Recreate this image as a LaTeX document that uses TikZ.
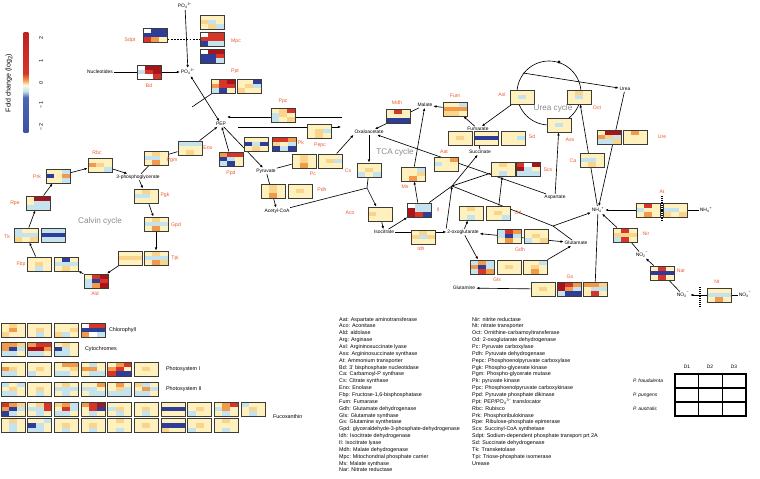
\documentclass[tikz,border=0pt]{standalone}
\usepackage{fontspec}
\setmainfont{Liberation Sans}
\usetikzlibrary{arrows.meta, backgrounds}

% heat map colours
\definecolor{yy}{HTML}{FFF1BE}
\definecolor{pp}{HTML}{FBD48C}
\definecolor{oo}{HTML}{F39A4A}
\definecolor{rr}{HTML}{D7352A}
\definecolor{dd}{HTML}{A8141C}
\definecolor{bb}{HTML}{2E3D98}
\definecolor{cbm}{HTML}{4A67B0}
\definecolor{ll}{HTML}{C4E3EF}
\definecolor{ww}{HTML}{FFFFFF}
\definecolor{enz}{HTML}{EE5A2A}
\definecolor{boxline}{HTML}{3C3C34}

% colour bar
\pgfdeclareverticalshading{fcbar}{1cm}{color(0cm)=(bb); color(1.22cm)=(cbm); color(1.33cm)=(ll); color(1.44cm)=(ww!50!yy); color(1.53cm)=(oo); color(1.65cm)=(rr); color(2.97cm)=(dd)}

% index and charge of an ion
\newcommand{\ionix}[2]{\textsubscript{#1}\textsuperscript{#2}}

% one heat map: name, x, y (top left), nine cell colours
\newcommand{\hmap}[4]{%
  \edef\hmcols{#4}%
  \foreach \hmk [count=\hmi from 0] in \hmcols {%
    \pgfmathtruncatemacro{\hmr}{\hmi/3}%
    \pgfmathtruncatemacro{\hmc}{mod(\hmi,3)}%
    \fill[\hmk] ({#2+\hmc*8},{#3+\hmr*14/3}) rectangle ++(8,14/3);
  }%
  \node[hmbox] (#1) at ({#2+12},{#3+7}) {};
}

\begin{document}
\begin{tikzpicture}[x=0.03cm, y=-0.03cm,
    hmbox/.style={draw=boxline, line width=0.8pt, minimum width=0.72cm, minimum height=0.42cm, inner sep=0pt}, % frame of a heat map
    met/.style={font=\fontsize{4.2}{5}\selectfont, inner sep=0.7pt}, % metabolites
    enzlab/.style={text=enz, font=\fontsize{4.4}{5}\selectfont, inner sep=0.5pt}, % enzyme names
    cyc/.style={text=black!45, font=\fontsize{7}{8}\selectfont}, % cycle names
    arr/.style={-{Latex[length=2.6pt,width=2.2pt]}, line width=0.55pt},
    arr2/.style={{Latex[length=2.6pt,width=2.2pt]}-{Latex[length=2.6pt,width=2.2pt]}, line width=0.55pt},
    link/.style={line width=0.55pt},
    memb/.style={line width=1pt, dash pattern=on 0.8pt off 0.8pt}, % membrane
    legtxt/.style={font=\fontsize{4.6}{5.85}\selectfont, align=left, inner sep=0pt}
]
\useasboundingbox (0,0) rectangle (760,478);

% Colour bar
\shade[shading=fcbar] (22,33) rectangle (30,132);
\node[met, rotate=90, font=\fontsize{6}{7}\selectfont] (fctitle) at (9,83) {Fold change (log\textsubscript{2})};
\foreach \v/\ty in {2/38,1/61,0/83,−1/105,−2/127}
    \node[met, rotate=90, font=\fontsize{4.6}{5}\selectfont] (tick\ty) at (41,\ty) {\v};

% Phosphate
\hmap{sdpt}{143}{28}{ww,bb,bb,bb,bb,bb,rr,oo,yy}
\hmap{mpc1}{200}{15}{yy,yy,yy,pp,ll,yy,yy,pp,ll}
\hmap{mpc2}{200}{32}{ww,rr,rr,rr,rr,rr,bb,ll,ll}
\hmap{mpc3}{200}{49}{ww,dd,dd,bb,bb,rr,bb,bb,ll}
\hmap{bd}{137}{65}{ww,dd,dd,ll,rr,dd,ww,ww,rr}
\hmap{ppt1}{211}{79}{yy,rr,dd,oo,rr,rr,ll,bb,yy}
\hmap{ppt2}{237}{79}{yy,yy,bb,yy,pp,ll,pp,yy,yy}

% PEP and pyruvate
\hmap{ppc}{271}{108}{yy,pp,rr,ll,pp,yy,ll,yy,pp}
\hmap{pepc}{307}{124}{yy,yy,yy,yy,pp,ll,yy,pp,yy}
\hmap{pk1}{244}{137}{yy,yy,yy,bb,ll,bb,yy,pp,yy}
\hmap{pk2}{272}{137}{rr,rr,oo,pp,yy,ll,bb,ll,bb}
\hmap{ppd}{219}{152}{oo,rr,rr,bb,ll,yy,ll,bb,yy}
\hmap{pc1}{292}{154}{yy,pp,yy,yy,pp,yy,yy,oo,yy}
\hmap{pc2}{318}{154}{yy,yy,yy,yy,pp,ll,yy,yy,yy}
\hmap{pdh1}{261}{184}{yy,pp,yy,yy,pp,yy,yy,oo,yy}
\hmap{pdh2}{288}{184}{yy,yy,yy,yy,pp,yy,yy,yy,yy}

% Calvin cycle
\hmap{eno}{178}{141}{ll,ll,ll,yy,yy,yy,yy,pp,yy}
\hmap{pgm}{144}{151}{yy,pp,yy,ll,ll,yy,yy,oo,yy}
\hmap{rbc}{88}{158}{yy,yy,yy,oo,pp,yy,yy,yy,ll}
\hmap{prk}{46}{169}{yy,yy,ll,bb,yy,oo,yy,yy,ll}
\hmap{rpe}{26}{196}{yy,dd,dd,yy,ll,ll,ll,ll,ll}
\hmap{tk1}{14}{228}{ll,yy,yy,ll,ll,ll,pp,yy,pp}
\hmap{tk2}{41}{228}{ll,ll,ll,bb,bb,bb,ll,ll,ll}
\hmap{fbp1}{27}{257}{yy,yy,yy,yy,pp,yy,yy,ll,yy}
\hmap{fbp2}{54}{257}{yy,bb,yy,ll,ll,ll,yy,pp,yy}
\hmap{ald}{84}{274}{yy,rr,dd,ll,bb,rr,ll,oo,dd}
\hmap{tpi1}{118}{251}{yy,yy,yy,pp,pp,pp,yy,yy,yy}
\hmap{tpi2}{144}{251}{yy,pp,yy,ll,ll,ll,yy,oo,pp}
\hmap{gpd}{144}{217}{yy,pp,yy,ll,ll,ll,yy,oo,yy}
\hmap{pgk}{134}{189}{yy,pp,yy,ll,ll,yy,yy,yy,yy}

% TCA cycle
\hmap{mdh}{386}{109}{yy,rr,yy,yy,yy,yy,bb,bb,bb}
\hmap{fumb}{443}{102}{yy,yy,ll,oo,oo,oo,pp,pp,yy}
\hmap{sd1}{448}{131}{yy,yy,yy,yy,pp,yy,yy,yy,yy}
\hmap{sd2}{474}{131}{yy,yy,yy,bb,bb,bb,yy,yy,yy}
\hmap{sd3}{501}{131}{yy,yy,yy,yy,yy,ll,yy,yy,yy}
\hmap{cs}{357}{163}{yy,yy,yy,yy,pp,yy,ll,yy,ll}
\hmap{ms}{401}{167}{yy,yy,ll,yy,yy,pp,yy,oo,yy}
\hmap{aat}{434}{157}{yy,yy,oo,ll,yy,yy,yy,yy,yy}
\hmap{scs1}{491}{162}{yy,pp,yy,yy,yy,yy,yy,ll,yy}
\hmap{scs2}{516}{162}{rr,ww,dd,dd,ll,yy,ll,ll,ll}
\hmap{aco}{368}{207}{yy,yy,yy,pp,yy,yy,yy,yy,yy}
\hmap{il}{407}{203}{ww,ll,ll,dd,ll,ll,dd,rr,bb}
\hmap{idh}{411}{230}{yy,pp,yy,pp,ll,pp,yy,yy,yy}
\hmap{od1}{459}{206}{yy,pp,yy,yy,yy,yy,yy,ll,yy}
\hmap{od2}{486}{206}{yy,yy,yy,yy,pp,yy,yy,yy,ll}
\hmap{gdh1}{497}{229}{ll,rr,oo,ll,bb,ll,yy,oo,yy}
\hmap{gdh2}{524}{229}{yy,yy,yy,yy,pp,yy,ll,yy,pp}
\hmap{gls1}{470}{260}{ll,oo,ll,oo,bb,ll,ll,rr,oo}
\hmap{gls2}{497}{260}{yy,yy,yy,yy,pp,yy,yy,yy,yy}
\hmap{gls3}{523}{260}{yy,yy,ll,yy,pp,yy,yy,oo,yy}
\hmap{gs1}{531}{282}{yy,yy,yy,yy,pp,yy,yy,yy,yy}
\hmap{gs2}{557}{282}{dd,rr,oo,dd,oo,ll,ll,bb,bb}
\hmap{gs3}{583}{282}{oo,oo,pp,yy,ll,ll,yy,rr,yy}

% Urea cycle
\hmap{asl}{510}{90}{yy,yy,yy,yy,ll,yy,yy,yy,yy}
\hmap{oct}{567}{90}{yy,pp,yy,yy,ll,yy,yy,yy,yy}
\hmap{ass}{547}{118}{yy,yy,yy,yy,ll,yy,yy,yy,yy}
\hmap{ca}{580}{153}{yy,yy,yy,ll,ll,yy,yy,pp,yy}
\hmap{ure1}{597}{130}{yy,dd,dd,oo,pp,ll,ll,ll,pp}
\hmap{ure2}{623}{130}{yy,oo,yy,yy,yy,yy,yy,yy,yy}

% Nitrogen
\hmap{at1}{636}{203}{yy,rr,yy,ll,yy,yy,yy,oo,yy}
\hmap{at2}{663}{203}{yy,yy,yy,ll,ll,yy,pp,yy,pp}
\hmap{nir}{613}{228}{yy,rr,yy,pp,pp,pp,ll,rr,yy}
\hmap{nar}{650}{266}{yy,rr,yy,bb,bb,bb,yy,rr,yy}
\hmap{nt}{707}{288}{yy,yy,yy,ll,ll,ll,yy,oo,yy}

% Photosynthesis rows
\foreach \cl [count=\k from 0] in {{yy,pp,yy,yy,oo,yy,pp,yy,yy},{yy,yy,yy,yy,pp,yy,yy,ll,yy},{yy,yy,yy,yy,yy,pp,pp,ll,yy},{ww,rr,rr,bb,bb,bb,oo,ww,ll}}
    {\hmap{chl\k}{1+\k*26.67}{323}{\cl}}
\foreach \cl [count=\k from 0] in {{oo,oo,pp,oo,bb,ll,ll,ll,yy},{oo,rr,rr,dd,dd,oo,ll,ll,yy},{yy,pp,yy,bb,ll,yy,ll,ll,yy}}
    {\hmap{cyt\k}{1+\k*26.67}{342}{\cl}}
\foreach \cl [count=\k from 0] in {{yy,yy,yy,oo,pp,yy,ll,ll,yy},{yy,yy,yy,yy,pp,yy,ll,yy,yy},{yy,oo,oo,yy,yy,pp,ll,ll,yy},{yy,ll,yy,oo,oo,yy,yy,ll,ll},{yy,oo,rr,oo,rr,yy,rr,bb,bb},{yy,yy,yy,yy,pp,yy,yy,yy,yy}}
    {\hmap{psa\k}{1+\k*26.67}{362}{\cl}}
\foreach \cl [count=\k from 0] in {{ll,yy,ll,yy,pp,yy,ll,ll,yy},{yy,yy,yy,yy,pp,yy,yy,ll,yy},{yy,pp,yy,ll,ll,ll,yy,ll,yy},{yy,yy,oo,ll,ll,yy,yy,ll,ll},{yy,oo,yy,yy,pp,ll,ll,ll,ll},{pp,ll,yy,yy,oo,ll,ll,ll,yy}}
    {\hmap{psb\k}{1+\k*26.67}{382}{\cl}}
\foreach \cl [count=\k from 0] in {{rr,oo,pp,oo,bb,ll,bb,ll,yy},{yy,pp,rr,ll,ll,rr,yy,ll,yy},{pp,oo,ll,yy,rr,ll,ll,ll,yy},{oo,rr,dd,yy,rr,bb,yy,ll,yy},{yy,yy,yy,ll,pp,yy,yy,ll,yy},{yy,yy,yy,yy,pp,yy,yy,ll,yy},{yy,yy,yy,bb,bb,bb,yy,yy,yy},{yy,yy,yy,yy,pp,yy,ll,yy,yy},{yy,oo,rr,ll,oo,yy,yy,ll,yy},{ll,yy,yy,yy,pp,yy,yy,ll,yy}}
    {\hmap{fxa\k}{1+\k*26.67}{402}{\cl}}
\foreach \cl [count=\k from 0] in {{yy,pp,yy,yy,ll,yy,yy,ll,yy},{yy,yy,ll,bb,ll,yy,ll,ll,yy},{yy,yy,yy,yy,pp,yy,yy,ll,yy},{yy,yy,yy,yy,pp,yy,yy,ll,yy},{yy,pp,yy,yy,yy,yy,yy,ll,yy},{yy,yy,yy,yy,pp,yy,yy,yy,yy},{yy,yy,yy,bb,bb,bb,pp,yy,yy},{yy,yy,yy,yy,pp,yy,ll,yy,yy},{yy,pp,yy,yy,yy,yy,yy,ll,yy}}
    {\hmap{fxb\k}{1+\k*26.67}{418.5}{\cl}}
\node[met, anchor=west, font=\fontsize{4.6}{5}\selectfont] (chllab) at (108,330) {Chlorophyll};
\node[met, anchor=west, font=\fontsize{4.6}{5}\selectfont] (cytlab) at (84,349) {Cytochromes};
\node[met, anchor=west, font=\fontsize{4.6}{5}\selectfont] (psalab) at (165,369) {Photosystem I};
\node[met, anchor=west, font=\fontsize{4.6}{5}\selectfont] (psblab) at (165,389) {Photosystem II};
\node[met, anchor=west, font=\fontsize{4.6}{5}\selectfont] (fxlab) at (272,417) {Fucoxanthin};

% Metabolites
\node[met] (po4a) at (185,6) {PO\ionix{4}{3−}};
\node[met] (po4b) at (188,72) {PO\ionix{4}{3−}};
\node[met] (nuc) at (100,72) {Nucleotides};
\node[met] (pep) at (221,124) {PEP};
\node[met] (pyr) at (266,171) {Pyruvate};
\node[met] (acoa) at (277,211) {Acetyl-CoA};
\node[met] (pga) at (138,177) {3-phosphoglycerate};
\node[met] (oaa) at (369,132) {Oxaloacetate};
\node[met] (mal) at (425,105) {Malate};
\node[met] (fum) at (478,129) {Fumarate};
\node[met] (suc) at (480,152) {Succinate};
\node[met] (asp) at (555,197) {Aspartate};
\node[met] (iso) at (384,232) {Isocitrate};
\node[met] (og) at (463,232) {2-oxoglutarate};
\node[met] (glu) at (576,243) {Glutamate};
\node[met] (gln) at (464,288) {Glutamine};
\node[met] (urea) at (625,89) {Urea};
\node[met] (nh4) at (598,210) {NH\ionix{4}{+}};
\node[met] (nh4o) at (706,210) {NH\ionix{4}{+}};
\node[met] (no2) at (642,255) {NO\ionix{2}{−}};
\node[met] (no3) at (683,295) {NO\ionix{3}{−}};
\node[met] (no3o) at (745,295) {NO\ionix{3}{−}};

% Cycle names
\node[cyc] (calvin) at (100,221) {Calvin cycle};
\node[cyc] (tca) at (395,152) {TCA cycle};
\node[cyc] (ureacyc) at (553,108) {Urea cycle};

% Enzyme names
\node[enzlab] (sdptl) at (130,40) {Sdpt};
\node[enzlab] (mpcl) at (236,41) {Mpc};
\node[enzlab] (bdl) at (149,86) {Bd};
\node[enzlab] (pptl) at (235,71) {Ppt};
\node[enzlab] (ppcl) at (283,101) {Ppc};
\node[enzlab] (pepcl) at (320,145) {Pepc};
\node[enzlab] (pkl) at (301,143) {Pk};
\node[enzlab] (ppdl) at (231,173) {Ppd};
\node[enzlab] (pcl) at (313,174) {Pc};
\node[enzlab] (pdhl) at (322,190) {Pdh};
\node[enzlab] (enol) at (208,148) {Eno};
\node[enzlab] (pgml) at (172,160) {Pgm};
\node[enzlab] (rbcl) at (97,153) {Rbc};
\node[enzlab] (prkl) at (37,177) {Prk};
\node[enzlab] (rpel) at (15,203) {Rpe};
\node[enzlab] (tkl) at (7,237) {Tk};
\node[enzlab] (fbpl) at (21,264) {Fbp};
\node[enzlab] (aldl) at (95,294) {Ald};
\node[enzlab] (tpil) at (175,258) {Tpi};
\node[enzlab] (gpdl) at (176,225) {Gpd};
\node[enzlab] (pgkl) at (165,195) {Pgk};
\node[enzlab] (mdhl) at (397,103) {Mdh};
\node[enzlab] (fuml) at (455,96) {Fum};
\node[enzlab] (sdl) at (532,137) {Sd};
\node[enzlab] (csl) at (348,171) {Cs};
\node[enzlab] (msl) at (405,187) {Ms};
\node[enzlab] (aatl) at (444,152) {Aat};
\node[enzlab] (scsl) at (548,170) {Scs};
\node[enzlab] (acol) at (350,213) {Aco};
\node[enzlab] (ill) at (438,210) {Il};
\node[enzlab] (idhl) at (421,249) {Idh};
\node[enzlab] (odl) at (518,213) {Od};
\node[enzlab] (gdhl) at (520,250) {Gdh};
\node[enzlab] (glsl) at (497,280) {Gls};
\node[enzlab] (gsl) at (570,277) {Gs};
\node[enzlab] (asll) at (502,95) {Asl};
\node[enzlab] (octl) at (597,108) {Oct};
\node[enzlab] (assl) at (570,140) {Ass};
\node[enzlab] (cal) at (573,161) {Ca};
\node[enzlab] (urel) at (662,137) {Ure};
\node[enzlab] (atl) at (662,192) {At};
\node[enzlab] (nirl) at (646,234) {Nir};
\node[enzlab] (narl) at (681,271) {Nar};
\node[enzlab] (ntl) at (717,282) {Nt};

% Free ends and branch points
\coordinate (pptx) at (192,107);
\coordinate (ppcR) at (342,117);
\coordinate (pepcL) at (238,127);
\coordinate (pepcR) at (341,127);
\coordinate (jcs) at (367,188);
\coordinate (jx) at (452,186);
\coordinate (jglu) at (553,226);
\coordinate (args) at (523,73);

\begin{pgfonlayer}{background}
    % phosphate
    \draw[arr] (po4a) -- (po4b);
    \draw[line width=0.8pt, dash pattern=on 1.6pt off 1.1pt] (sdpt.east |- mpc2.west) -- (mpc2.west);
    \draw[arr] (nuc) -- (po4b);
    \draw[arr2] (po4b) -- (pep);
    \draw[link] (pptx) -- (ppt1);
    % PEP / pyruvate
    \draw[arr] (ppcR) -- (ppcR -| pep.east);
    \draw[arr] (pepcL) -- (pepcR);
    \draw[arr] (pep) -- (pyr);
    \draw[arr] (ppd) -- (pep);
    \draw[arr] (eno) -- (pep);
    \draw[link] (pga) -- (pgm);
    \draw[link] (pgm) -- (eno);
    \draw[arr] (pyr) -- (acoa);
    \draw[link] (pyr) -- (pc1);
    \draw[arr] (pc2) -- (oaa.south west);
    % Calvin cycle
    \draw[arr] (pga) -- (pgk);
    \draw[arr] (pgk) -- (gpd);
    \draw[arr] (gpd) -- (tpi2);
    \draw[arr] (tpi1) -- (ald);
    \draw[arr] (ald) -- (fbp2);
    \draw[arr] (fbp1) -- (tk1);
    \draw[arr] (tk1) -- (rpe);
    \draw[arr] (rpe) -- (prk);
    \draw[arr] (prk) -- (rbc);
    \draw[arr] (rbc) -- (pga);
    % TCA cycle
    \draw[link] (acoa) -- (jcs);
    \draw[arr] (oaa) -- (cs);
    \draw[arr] (cs) -- (jcs) -- (aco);
    \draw[arr] (aco) -- (iso);
    \draw[arr] (iso) -- (og);
    \draw[arr] (iso) -- (il);
    \draw[arr] (il) -- (ms);
    \draw[arr] (ms) -- (mal);
    \draw[arr] (mal) -- (oaa);
    \draw[arr] (fum) -- (fumb);
    \draw[arr] (fumb) -- (mal);
    \draw[arr] (suc) -- (fum);
    \draw[link] (il) -- (jx);
    \draw[arr] (jx) -- (suc);
    \draw[link] (scs1) -- (jx);
    \draw[arr] (og) -- (od1);
    \draw[arr] (od2) -- (scs1);
    \draw[arr] (og.north west) -- (jx);
    \draw[arr] (asp) -- (oaa);
    \draw[link] (jx) -- (jglu);
    % glutamate / glutamine
    \draw[arr2] (glu) -- (og);
    \draw[arr] (og) -- (gls1);
    \draw[arr] (gls3) -- (glu);
    \draw[arr] (gs1) -- (gln);
    \draw[link] (nh4) -- (gs3);
    \draw[link] (jglu) -- (glu);
    \draw[arr] (jglu) -- (nh4);
    % urea cycle
    \draw[link] (549,93) circle[radius=0.96cm];
    \draw[arr] (args) -- (urea);
    \draw[arr] (asl) -- (fum);
    \draw[arr] (asp) -- (ass);
    \draw[arr] (nh4) -- (oct);
    \draw[arr] (urea) -- (nh4);
    % nitrogen uptake
    \draw[arr] (nh4o) -- (nh4);
    \draw[memb] (662,196) -- (662,222);
    \draw[arr] (nir) -- (nh4);
    \draw[link] (no2) -- (nir);
    \draw[link] (no3) -- (nar);
    \draw[arr] (nar) -- (no2);
    \draw[arr] (no3o) -- (no3);
    \draw[memb] (700,287) -- (700,306);
\end{pgfonlayer}
\fill (559,62) circle[radius=1.3pt];

% Legend of enzymes
\node[legtxt, anchor=north west] (legA) at (339,317) {Aat: Aspartate aminotransferase\\Aco: Aconitase\\Ald: aldolase\\Arg: Arginase\\Asl: Argininosuccinate lyase\\Ass: Argininosuccinate synthase\\At: Ammonium transporter\\Bd: 3' bisphosphate nucleotidase\\Ca: Carbamoyl-P synthase\\Cs: Citrate synthase\\Eno: Enolase\\Fbp: Fructose-1,6-bisphosphatase\\Fum: Fumarase\\Gdh: Glutamate dehydrogenase\\Gls: Glutamate synthase\\Gs: Glutamine synthetase\\Gpd: glyceraldehyde-3-phosphate-dehydrogenase\\Idh: Isocitrate dehydrogenase\\Il: Isocitrate lyase\\Mdh: Malate dehydrogenase\\Mpc: Mitochondrial phosphate carrier\\Ms: Malate synthase\\Nar: Nitrate reductase};
\node[legtxt, anchor=north west] (legB) at (472,317) {Nir: nitrite reductase\\Nt: nitrate transporter\\Oct: Ornithine-carbamoyltransferase\\Od: 2-oxoglutarate dehydrogenase\\Pc: Pyruvate carboxylase\\Pdh: Pyruvate dehydrogenase\\Pepc: Phosphoenolpyruvate carboxylase\\Pgk: Phospho-glycerate kinase\\Pgm: Phospho-glycerate mutase\\Pk: pyruvate kinase\\Ppc: Phosphoenolpyruvate carboxykinase\\Ppd: Pyruvate phosphate dikinase\\Ppt: PEP/PO\ionix{4}{3−} translocator\\Rbc: Rubisco\\Prk: Phosphoribulokinase\\Rpe: Ribulose-phosphate epimerase\\Scs: Succinyl-CoA synthetase\\Sdpt: Sodium-dependent phosphate transport prt 2A\\Sd: Succinate dehydrogenase\\Tk: Transketolase\\Tpi: Triose-phosphate isomerase\\Urease};

% Legend of the heat map cells
\draw[line width=1.2pt] (675,374) rectangle (746,416);
\foreach \gx in {1,2}
    \draw[line width=1.2pt] (675+\gx*23.67,374) -- ++(0,42);
\foreach \gy in {1,2}
    \draw[line width=1.2pt] (675,374+\gy*14) -- ++(71,0);
\node[met] (day1) at (687,367) {D1};
\node[met] (day2) at (710,367) {D2};
\node[met] (day3) at (734,367) {D3};
\node[met, anchor=west] (spa) at (632,381) {\textit{P. fraudulenta}};
\node[met, anchor=west] (spb) at (632,395) {\textit{P. pungens}};
\node[met, anchor=west] (spc) at (632,409) {\textit{P. australis}};
\end{tikzpicture}
\end{document}
